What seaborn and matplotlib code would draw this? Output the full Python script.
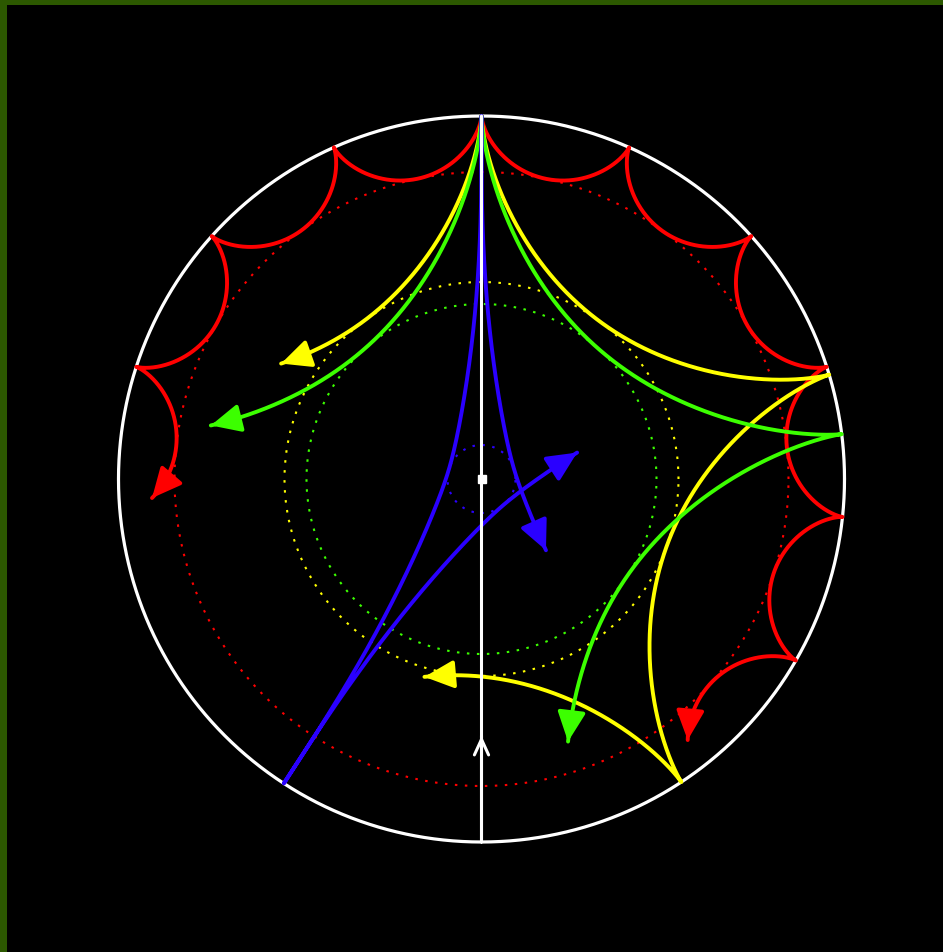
import numpy as np
import pandas as pd
import matplotlib
matplotlib.use("Agg")
import matplotlib.pyplot as plt
import seaborn as sns

# Outer boundary radius (pixels of the drawing)
R = 363.0

# Pendulum paths, one per colour, released from rest at the top of the ring
path_names = ["red", "yellow", "green", "blue", "white"]
path_colors = ["#ff0000", "#ffff00", "#3cff00", "#2a00ff", "#ffffff"]
cusp_step_deg = [24.0, 73.3, 82.9, 147.0, 180.0]      # angle between successive turning points
inner_radius = [307.0, 197.0, 175.0, 34.0, 0.0]      # closest approach to the centre
swing_back = [-3.715, -0.63, -0.734, -1.583, 0.0]     # swings traced counter-clockwise from the top
swing_fwd = [5.73, 2.563, 1.735, 0.58, 1.25]          # swings traced clockwise from the top

# share of the extra precession that follows the polar angle (rest follows the swing phase)
ANGLE_SHARE = 0.4


def branch(step, inner, u_end, n=2500):
    """Trace one branch from the release point (u=0) to u_end swings."""
    q = inner / R
    k = 2.0 / (1.0 - q)
    beta = 1.0 / k
    u = np.linspace(0.0, u_end, n)
    t = u * 2.0 * np.pi / k
    z = (1.0 - beta) * np.exp(1j * t) + beta * np.exp(-1j * (k - 1.0) * t)
    rad = np.abs(z) * R
    ang = np.unwrap(np.angle(z))
    ang -= ang[0]
    base_step = 2.0 * np.pi / k
    extra = np.radians(step) - base_step
    phase = u - np.sin(2.0 * np.pi * u) / (2.0 * np.pi)
    ang = ang + extra * (ANGLE_SHARE * ang / base_step + (1 - ANGLE_SHARE) * phase)
    theta = np.pi / 2.0 - ang
    return rad * np.cos(theta), rad * np.sin(theta)


sns.set_style("dark", {"axes.facecolor": "black", "figure.facecolor": "#2c5800"})
fig = plt.figure(figsize=(9.43, 9.53), dpi=100)
fig.patch.set_facecolor("#2c5800")
ax = fig.add_axes([7 / 943, 0, 936 / 943, 947 / 953])
ax.set_facecolor("black")
ax.set_xlim(-474.5, 461.5)
ax.set_ylim(-473, 474)
ax.set_xticks([])
ax.set_yticks([])
for s in ax.spines.values():
    s.set_visible(False)

# Boundary ring
phi = np.linspace(0, 2 * np.pi, 721)
ring = pd.DataFrame({"x": R * np.cos(phi), "y": R * np.sin(phi)})
sns.lineplot(data=ring, x="x", y="y", sort=False, estimator=None,
             color="white", lw=2.3, ax=ax, zorder=2)

# Dotted circles of closest approach
for col, rin in zip(path_colors[:4], inner_radius[:4]):
    circ = pd.DataFrame({"x": rin * np.cos(phi), "y": rin * np.sin(phi)})
    sns.lineplot(data=circ, x="x", y="y", sort=False, estimator=None,
                 color=col, lw=1.5, linestyle=(0, (1.2, 3.6)), ax=ax, zorder=1)

# Paths with arrowheads at the end of every branch
for name, col, step, rin, ub, uf in zip(path_names, path_colors, cusp_step_deg,
                                         inner_radius, swing_back, swing_fwd):
    for u_end in (ub, uf):
        if u_end == 0:
            continue
        x, y = branch(step, rin, u_end)
        df = pd.DataFrame({"x": x, "y": y})
        lw = 2.2 if name == "white" else 2.8
        sns.lineplot(data=df, x="x", y="y", sort=False, estimator=None,
                     color=col, lw=lw, ax=ax, zorder=3)
        # tangent direction at the end
        d = np.hypot(np.diff(x), np.diff(y))
        back = np.searchsorted(np.cumsum(d[::-1]), 12.0)
        i0 = len(x) - 1 - max(back, 1)
        if name == "white":
            style = "->,head_length=0.7,head_width=0.32"
            ms = 16
        else:
            style = "-|>,head_length=0.95,head_width=0.45"
            ms = 19
        ax.annotate("", xy=(x[-1], y[-1]), xytext=(x[i0], y[i0]),
                    arrowprops=dict(arrowstyle=style, color=col, lw=lw,
                                    mutation_scale=ms, shrinkA=0, shrinkB=0),
                    zorder=4)

# Pivot marker at the centre
ax.plot([0], [0], marker="s", ms=6, color="white", zorder=5)

fig.savefig("out.png", dpi=100, facecolor=fig.get_facecolor())
